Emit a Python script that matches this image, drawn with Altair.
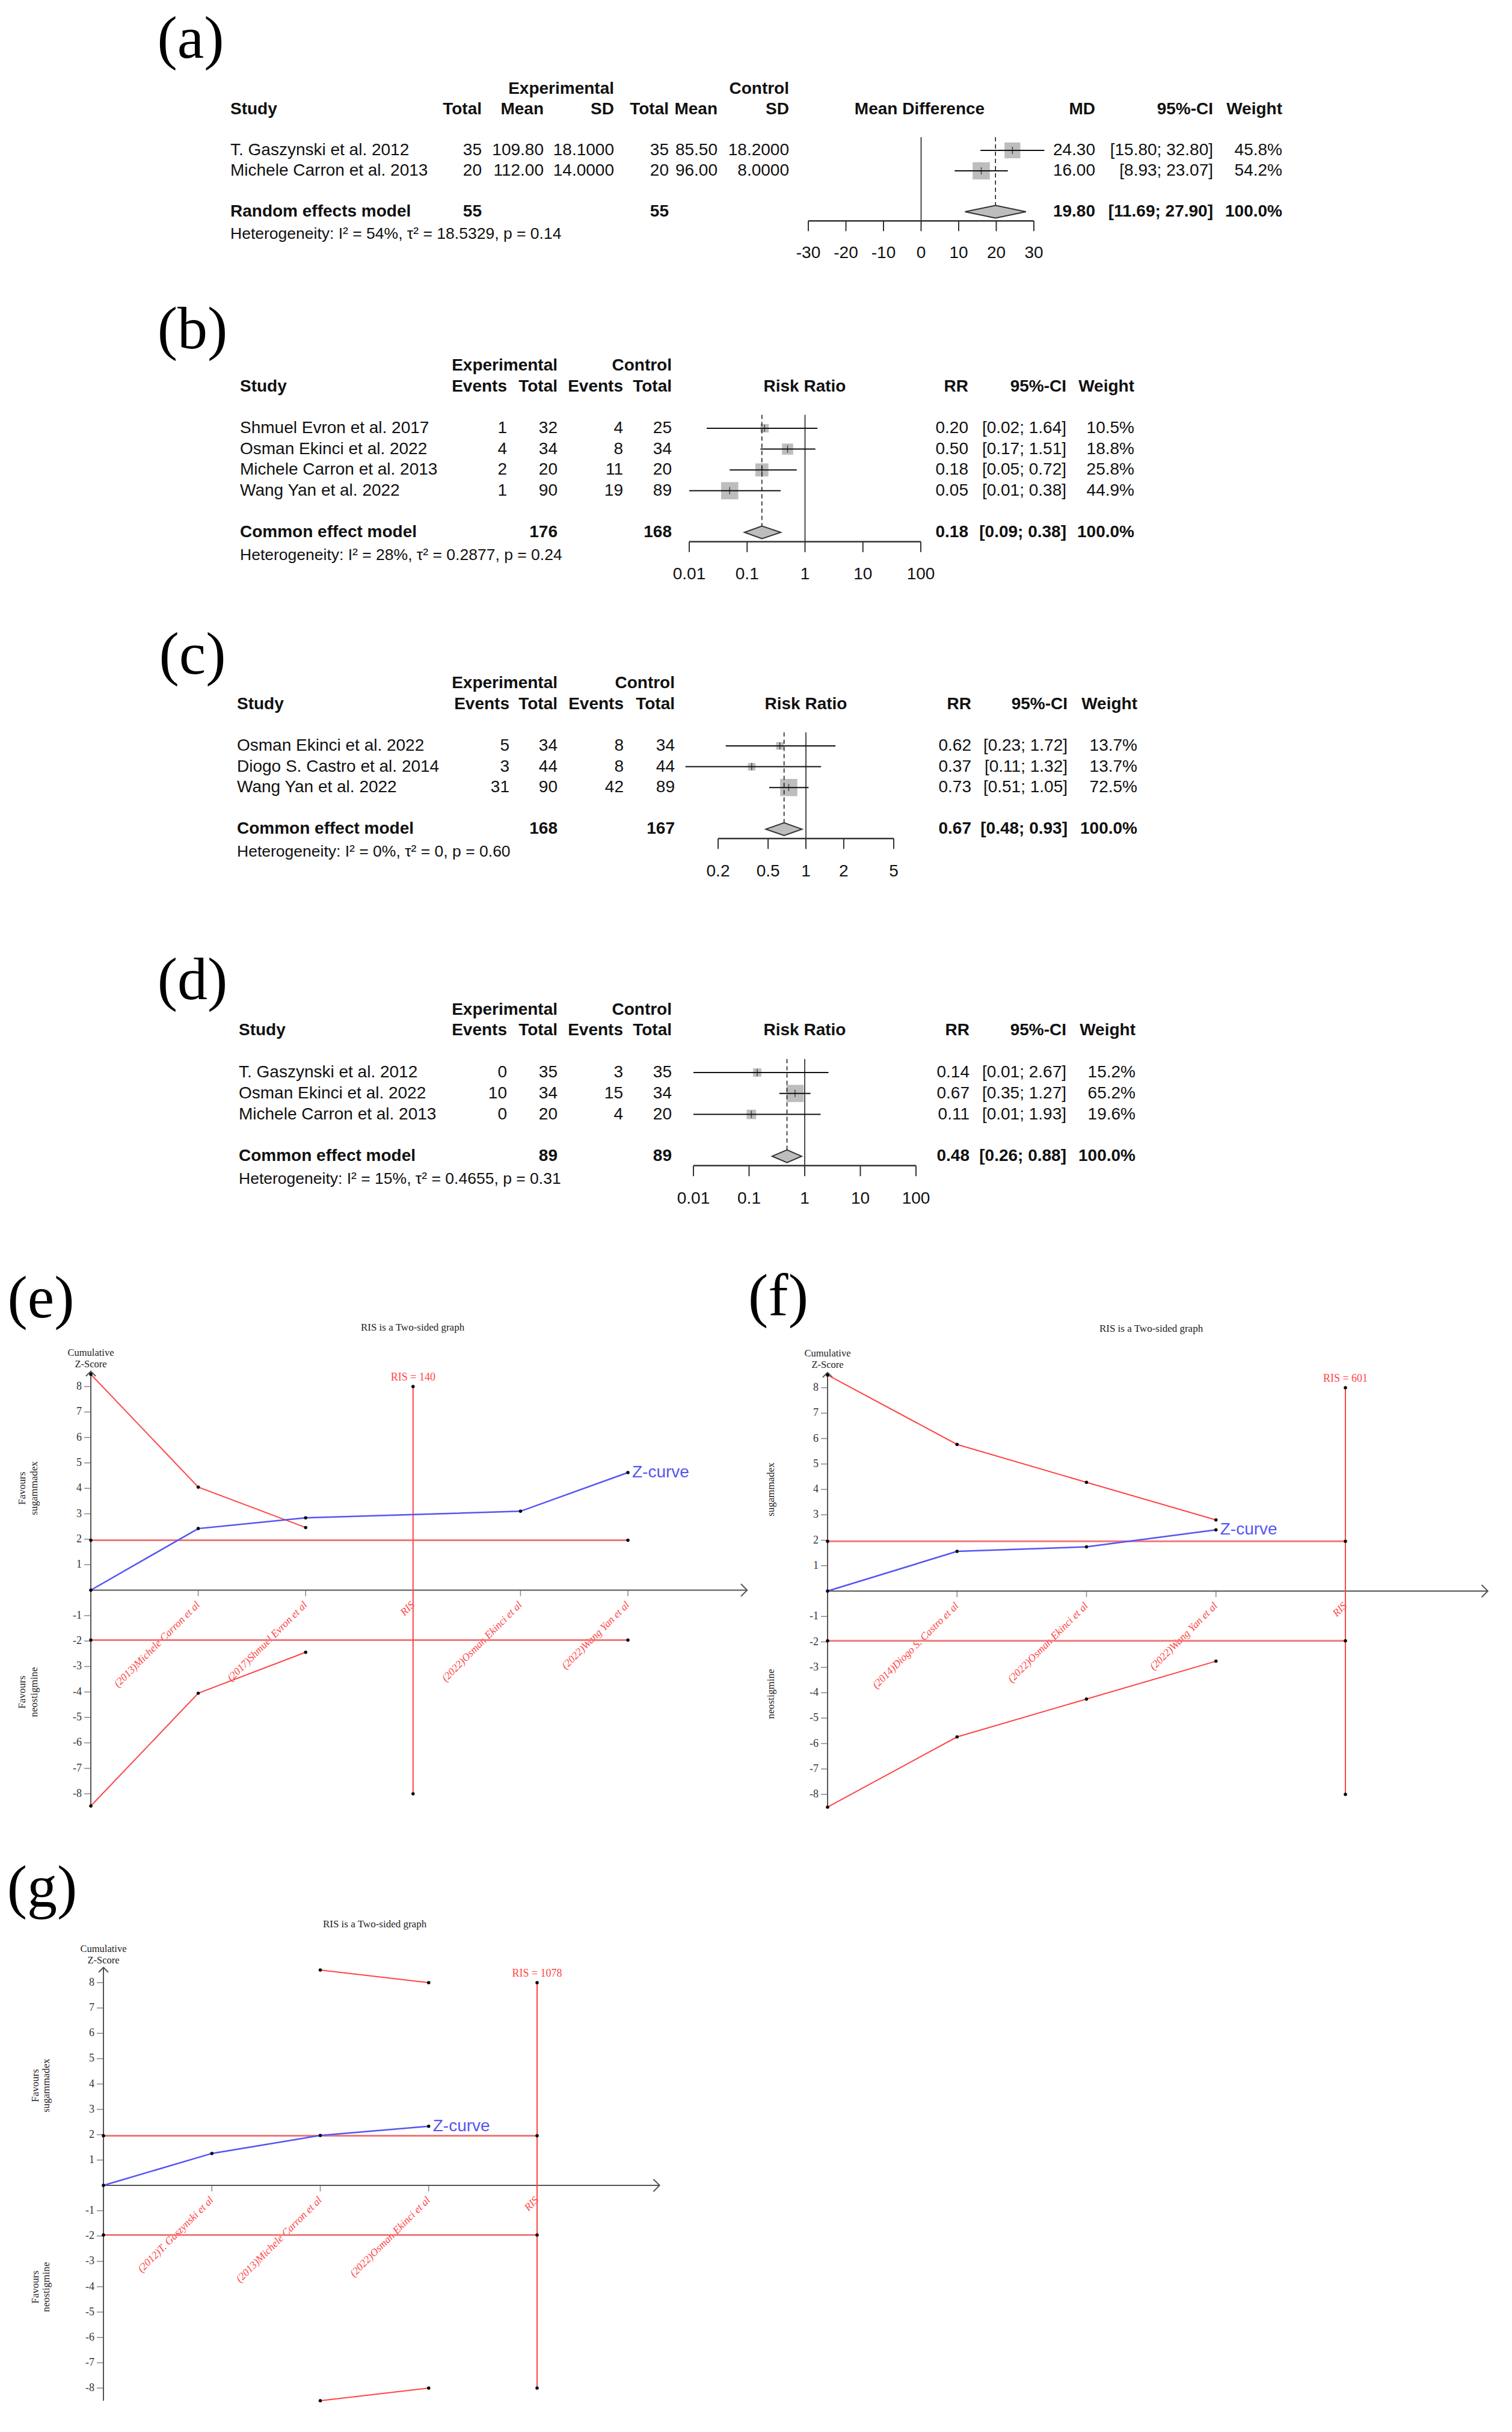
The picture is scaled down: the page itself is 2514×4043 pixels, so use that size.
import altair as alt
import pandas as pd

# ---------------------------------------------------------------- page / style
M = 8
FW, FH = 2514, 4043
W, H = FW - 2 * M, FH - 2 * M
SANS = "Liberation Sans, Arial, Helvetica, sans-serif"
SERIF = "Liberation Serif, Times New Roman, serif"
INK = "#111111"
RED = "#FF4545"
RED_SOFT = "#F07878"
BLUE = "#5555F5"
AXIS = "#555555"
SQUARE = "#BDBDBD"
LABEL_SIZE = 100

# ---------------------------------------------------------------- data (a)
a_study = ["T. Gaszynski et al. 2012", "Michele Carron et al. 2013"]
a_e_total = [35, 20]
a_e_mean = ["109.80", "112.00"]
a_e_sd = ["18.1000", "14.0000"]
a_c_total = [35, 20]
a_c_mean = ["85.50", "96.00"]
a_c_sd = ["18.2000", "8.0000"]
a_est = [24.30, 16.00]
a_lo = [15.80, 8.93]
a_hi = [32.80, 23.07]
a_w = [45.8, 54.2]
a_pooled = [19.80, 11.69, 27.90]
a_n = [55, 55]
a_het = ["54%", "18.5329", "0.14"]
a_ticks = [-30, -20, -10, 0, 10, 20, 30]

# ---------------------------------------------------------------- data (b)
b_study = ["Shmuel Evron et al.  2017", "Osman Ekinci et al. 2022",
           "Michele Carron et al.  2013", "Wang Yan et al. 2022"]
b_e_ev = [1, 4, 2, 1]
b_e_tot = [32, 34, 20, 90]
b_c_ev = [4, 8, 11, 19]
b_c_tot = [25, 34, 20, 89]
b_est = [0.20, 0.50, 0.18, 0.05]
b_lo = [0.02, 0.17, 0.05, 0.01]
b_hi = [1.64, 1.51, 0.72, 0.38]
b_w = [10.5, 18.8, 25.8, 44.9]
b_pooled = [0.18, 0.09, 0.38]
b_n = [176, 168]
b_het = ["28%", "0.2877", "0.24"]
b_ticks = [0.01, 0.1, 1, 10, 100]

# ---------------------------------------------------------------- data (c)
c_study = ["Osman Ekinci et al. 2022", "Diogo S. Castro et al. 2014", "Wang Yan et al. 2022"]
c_e_ev = [5, 3, 31]
c_e_tot = [34, 44, 90]
c_c_ev = [8, 8, 42]
c_c_tot = [34, 44, 89]
c_est = [0.62, 0.37, 0.73]
c_lo = [0.23, 0.11, 0.51]
c_hi = [1.72, 1.32, 1.05]
c_w = [13.7, 13.7, 72.5]
c_pooled = [0.67, 0.48, 0.93]
c_n = [168, 167]
c_het = ["0%", "0", "0.60"]
c_ticks = [0.2, 0.5, 1, 2, 5]

# ---------------------------------------------------------------- data (d)
d_study = ["T. Gaszynski et al.  2012", "Osman Ekinci et al. 2022", "Michele Carron et al.  2013"]
d_e_ev = [0, 10, 0]
d_e_tot = [35, 34, 20]
d_c_ev = [3, 15, 4]
d_c_tot = [35, 34, 20]
d_est = [0.14, 0.67, 0.11]
d_lo = [0.01, 0.35, 0.01]
d_hi = [2.67, 1.27, 1.93]
d_w = [15.2, 65.2, 19.6]
d_pooled = [0.48, 0.26, 0.88]
d_n = [89, 89]
d_het = ["15%", "0.4655", "0.31"]
d_ticks = [0.01, 0.1, 1, 10, 100]

# ---------------------------------------------------------------- data TSA (e)
e_labels = ["(2013)Michele Carron et al", "(2017)Shmuel Evron et al", "RIS",
            "(2022)Osman Ekinci et al", "(2022)Wang Yan et al"]
e_z_idx = [0, 1, 2, 4, 5]
e_z = [0.0, 2.42, 2.84, 3.10, 4.62]
e_up_idx = [0, 1, 2]
e_up = [8.48, 4.05, 2.46]
e_lo_idx = [0, 1, 2]
e_lo = [-8.48, -4.05, -2.44]
e_ris_idx = 3
e_ris = "RIS = 140"

# ---------------------------------------------------------------- data TSA (f)
f_labels = ["(2014)Diogo S. Castro et al", "(2022)Osman Ekinci et al", "(2022)Wang Yan et al", "RIS"]
f_z_idx = [0, 1, 2, 3]
f_z = [0.0, 1.56, 1.74, 2.41]
f_up_idx = [0, 1, 2, 3]
f_up = [8.5, 5.77, 4.28, 2.80]
f_lo_idx = [0, 1, 2, 3]
f_lo = [-8.5, -5.74, -4.25, -2.76]
f_ris_idx = 4
f_ris = "RIS = 601"

# ---------------------------------------------------------------- data TSA (g)
g_labels = ["(2012)T. Gaszynski et al", "(2013)Michele Carron et al", "(2022)Osman Ekinci et al", "RIS"]
g_z_idx = [0, 1, 2, 3]
g_z = [0.0, 1.26, 1.97, 2.33]
g_up_idx = [2, 3]
g_up = [8.5, 8.0]
g_lo_idx = [2, 3]
g_lo = [-8.5, -8.0]
g_ris_idx = 4
g_ris = "RIS = 1078"

# ---------------------------------------------------------------- helpers
PXX = alt.Scale(domain=[0, FW], range=[-M, FW - M], nice=False, zero=False)
PXY = alt.Scale(domain=[0, FH], range=[-M, FH - M], nice=False, zero=False)


def ptext(rows, **mk):
    df = pd.DataFrame(rows, columns=["x", "y", "text"])
    return alt.Chart(df).mark_text(**mk).encode(
        x=alt.X("x:Q", scale=PXX, axis=None),
        y=alt.Y("y:Q", scale=PXY, axis=None),
        text="text:N")


def forest(lay, d):
    out = []
    pitch = lay["pitch"]
    ys = alt.Scale(domain=[0, 10], range=[lay["row0"] - M, lay["row0"] - M + 10 * pitch],
                   nice=False, zero=False)
    kind, dom, rng = lay["scale"]
    xs = alt.Scale(type=kind, domain=dom, range=[rng[0] - M, rng[1] - M], nice=False, zero=False)

    def XD(f):
        return alt.X(f"{f}:Q", scale=xs, axis=None)

    def YR(f):
        return alt.Y(f"{f}:Q", scale=ys, axis=None)

    n = len(d["study"])
    srow, hrow, arow, trow, top = n + 1, n + 2.1, n + 1.45, n + 3.03, -0.65
    dh = 10.5 / pitch

    groups = {("left", "bold"): [], ("right", "bold"): [], ("center", "bold"): [],
              ("left", "normal"): [], ("right", "normal"): []}
    for txt, x in lay["hdr1"]:
        groups[("right", "bold")].append((x, -3, txt))
    groups[("left", "bold")].append((lay["study_x"], -2, "Study"))
    for txt, x in zip(lay["hdr2"], lay["cols"]):
        groups[("right", "bold")].append((x, -2, txt))
    groups[("center", "bold")].append((lay["plot_x"], -2, lay["plot_title"]))
    for txt, x in zip([lay["est_name"], "95%-CI", "Weight"], [lay["est_x"], lay["ci_x"], lay["w_x"]]):
        groups[("right", "bold")].append((x, -2, txt))
    for i in range(n):
        groups[("left", "normal")].append((lay["study_x"], i, d["study"][i]))
        for col, x in zip(d["cols"], lay["cols"]):
            groups[("right", "normal")].append((x, i, str(col[i])))
        groups[("right", "normal")].append((lay["est_x"], i, f"{d['est'][i]:.2f}"))
        groups[("right", "normal")].append((lay["ci_x"], i, f"[{d['lo'][i]:.2f}; {d['hi'][i]:.2f}]"))
        groups[("right", "normal")].append((lay["w_x"], i, f"{d['w'][i]:.1f}%"))
    groups[("left", "bold")].append((lay["study_x"], srow, lay["model"]))
    for v, ci in zip(d["n"], lay["n_cols"]):
        groups[("right", "bold")].append((lay["cols"][ci], srow, str(v)))
    pe, pl, ph = d["pooled"]
    groups[("right", "bold")] += [(lay["est_x"], srow, f"{pe:.2f}"),
                                  (lay["ci_x"], srow, f"[{pl:.2f}; {ph:.2f}]"),
                                  (lay["w_x"], srow, "100.0%")]

    for (al, wt), items in groups.items():
        if not items:
            continue
        df = pd.DataFrame(items, columns=["x", "row", "text"])
        out.append(alt.Chart(df).mark_text(align=al, baseline="middle", font=SANS, fontSize=28,
                                           fontWeight=wt, color=INK).encode(
            x=alt.X("x:Q", scale=PXX, axis=None), y=YR("row"), text="text:N"))

    i2, t2, p = d["het"]
    het = pd.DataFrame({"x": [lay["study_x"]], "row": [hrow],
                        "text": [f"Heterogeneity: I² = {i2}, τ² = {t2}, p = {p}"]})
    out.append(alt.Chart(het).mark_text(align="left", baseline="middle", font=SANS, fontSize=26.5,
                                        color=INK).encode(
        x=alt.X("x:Q", scale=PXX, axis=None), y=YR("row"), text="text:N"))

    st = pd.DataFrame({"est": d["est"], "lo": d["lo"], "hi": d["hi"], "w": d["w"], "row": list(range(n))})
    out.append(alt.Chart(st).mark_square(color=SQUARE, opacity=1).encode(
        x=XD("est"), y=YR("row"),
        size=alt.Size("w:Q", scale=alt.Scale(domain=[0, max(d["w"])], range=[0, 820], nice=False),
                      legend=None)))
    out.append(alt.Chart(st).mark_rule(color=INK, strokeWidth=2).encode(
        x=XD("lo"), x2="hi:Q", y=YR("row")))
    out.append(alt.Chart(st).mark_tick(orient="vertical", size=12, thickness=1.5, color=INK).encode(
        x=XD("est"), y=YR("row")))

    ref = pd.DataFrame({"x": [lay["null"]], "y": [top], "y2": [arow]})
    out.append(alt.Chart(ref).mark_rule(color=INK, strokeWidth=1.5).encode(
        x=XD("x"), y=YR("y"), y2="y2:Q"))
    dl = pd.DataFrame({"x": [pe], "y": [top], "y2": [srow - dh]})
    out.append(alt.Chart(dl).mark_rule(color=INK, strokeWidth=1.5, strokeDash=[7, 5]).encode(
        x=XD("x"), y=YR("y"), y2="y2:Q"))
    dm = pd.DataFrame({"x": [pl, pe, ph], "y": [srow, srow - dh, srow], "y2": [srow, srow + dh, srow]})
    out.append(alt.Chart(dm).mark_area(orient="vertical", fill=SQUARE, stroke="#333333",
                                       strokeWidth=2, opacity=1).encode(
        x=XD("x"), y=YR("y"), y2="y2:Q"))

    tk = d["ticks"]
    ax = pd.DataFrame({"x": [tk[0]], "x2": [tk[-1]], "y": [arow]})
    out.append(alt.Chart(ax).mark_rule(color="#333333", strokeWidth=2.5).encode(
        x=XD("x"), x2="x2:Q", y=YR("y")))
    tdf = pd.DataFrame({"t": tk, "y": [arow] * len(tk), "y2": [arow + 0.5] * len(tk),
                        "ly": [trow] * len(tk), "lab": [f"{t:g}" for t in tk]})
    out.append(alt.Chart(tdf).mark_rule(color="#333333", strokeWidth=2).encode(
        x=XD("t"), y=YR("y"), y2="y2:Q"))
    out.append(alt.Chart(tdf).mark_text(align="center", baseline="middle", font=SANS, fontSize=28,
                                        color=INK).encode(x=XD("t"), y=YR("ly"), text="lab:N"))

    out.append(ptext([(lay["label_xy"][0], lay["label_xy"][1], lay["label"])], font=SERIF,
                     fontSize=LABEL_SIZE, align="center", baseline="middle", color="black"))
    return out


def tsa(lay, d):
    out = []
    nx = lay["nx"]
    xs = alt.Scale(domain=[0, nx], range=[lay["x0"] - M, lay["x1"] - M], nice=False, zero=False)
    ys = alt.Scale(domain=[-8, 8], range=[lay["ym8"] - M, lay["y8"] - M], nice=False, zero=False)

    def X(f):
        return alt.X(f"{f}:Q", scale=xs, axis=None)

    def Y(f):
        return alt.Y(f"{f}:Q", scale=ys, axis=None)

    ae = lay["arrow_end"]
    out.append(alt.Chart(pd.DataFrame({"x": [0], "x2": [ae], "y": [0]})).mark_rule(
        color=AXIS, strokeWidth=2).encode(x=X("x"), x2="x2:Q", y=Y("y")))
    out.append(alt.Chart(pd.DataFrame({"x": [0], "y": [-8.5], "y2": [8.6]})).mark_rule(
        color=AXIS, strokeWidth=2).encode(x=X("x"), y=Y("y"), y2="y2:Q"))
    out.append(alt.Chart(pd.DataFrame({"x": [ae], "y": [0]})).mark_point(
        shape="M-1,-1L0,0L-1,1", filled=False, size=420, color=AXIS, strokeWidth=2, opacity=1).encode(
        x=X("x"), y=Y("y")))
    out.append(alt.Chart(pd.DataFrame({"x": [0], "y": [8.6]})).mark_point(
        shape="M-1,1L0,0L1,1", filled=False, size=260, color=AXIS, strokeWidth=2, opacity=1).encode(
        x=X("x"), y=Y("y")))

    yt = [t for t in range(-8, 9) if t != 0]
    ytdf = pd.DataFrame({"x": [0] * len(yt), "y": yt, "lab": [str(t) for t in yt]})
    out.append(alt.Chart(ytdf).mark_tick(orient="horizontal", size=11, thickness=1.5, color=AXIS,
                                         xOffset=-5.5).encode(x=X("x"), y=Y("y")))
    out.append(alt.Chart(ytdf).mark_text(align="right", baseline="middle", dx=-15, font=SERIF,
                                         fontSize=18, color="#333333").encode(
        x=X("x"), y=Y("y"), text="lab:N"))

    xt = list(range(1, nx + 1))
    xtdf = pd.DataFrame({"x": xt, "y": [0] * nx, "lab": d["labels"]})
    out.append(alt.Chart(xtdf).mark_tick(orient="vertical", size=10, thickness=1.5, color=AXIS,
                                         yOffset=5).encode(x=X("x"), y=Y("y")))
    out.append(alt.Chart(xtdf).mark_text(align="right", baseline="middle", angle=315, yOffset=22,
                                         font=SERIF, fontStyle="italic", fontSize=17.5,
                                         color=RED).encode(x=X("x"), y=Y("y"), text="lab:N"))

    thr = pd.DataFrame({"x": [0, 0], "x2": [nx, nx], "y": [1.96, -1.96]})
    out.append(alt.Chart(thr).mark_rule(color=RED_SOFT, strokeWidth=3).encode(
        x=X("x"), x2="x2:Q", y=Y("y")))
    ri = d["ris_idx"]
    out.append(alt.Chart(pd.DataFrame({"x": [ri], "y": [-8], "y2": [8]})).mark_rule(
        color=RED, strokeWidth=2).encode(x=X("x"), y=Y("y"), y2="y2:Q"))
    bd = pd.DataFrame({"x": d["up_idx"] + d["lo_idx"], "y": d["up"] + d["lo"],
                       "side": ["u"] * len(d["up"]) + ["l"] * len(d["lo"])})
    out.append(alt.Chart(bd).mark_line(color=RED, strokeWidth=2).encode(
        x=X("x"), y=Y("y"), detail="side:N"))
    zc = pd.DataFrame({"x": d["z_idx"], "y": d["z"]})
    out.append(alt.Chart(zc).mark_line(color=BLUE, strokeWidth=2.5).encode(x=X("x"), y=Y("y")))

    dots = pd.concat([
        zc, bd[["x", "y"]],
        pd.DataFrame({"x": [0, nx, 0, nx, ri, ri], "y": [1.96, 1.96, -1.96, -1.96, 8, -8]})
    ], ignore_index=True)
    out.append(alt.Chart(dots).mark_circle(color="black", size=30, opacity=1).encode(
        x=X("x"), y=Y("y")))

    zl = pd.DataFrame({"x": [d["z_idx"][-1]], "y": [d["z"][-1]], "lab": ["Z-curve"]})
    out.append(alt.Chart(zl).mark_text(align="left", baseline="middle", dx=7, font=SANS, fontSize=28,
                                       color=BLUE).encode(x=X("x"), y=Y("y"), text="lab:N"))
    rl = pd.DataFrame({"x": [ri], "y": [8], "lab": [d["ris"]]})
    out.append(alt.Chart(rl).mark_text(align="center", baseline="middle", dy=-15, font=SERIF,
                                       fontSize=18, color=RED).encode(x=X("x"), y=Y("y"), text="lab:N"))

    out.append(ptext([(lay["title_xy"][0], lay["title_xy"][1], "RIS is a Two-sided graph")],
                     font=SERIF, fontSize=17, align="center", baseline="middle", color="#222222"))
    cx, cy = lay["cum_xy"]
    out.append(ptext([(cx, cy, "Cumulative"), (cx, cy + 19, "Z-Score")],
                     font=SERIF, fontSize=16.5, align="center", baseline="middle", color="#222222"))
    out.append(ptext(lay["side"], font=SERIF, fontSize=17, align="center", baseline="middle",
                     angle=270, color="#222222"))
    out.append(ptext([(lay["label_xy"][0], lay["label_xy"][1], lay["label"])], font=SERIF,
                     fontSize=LABEL_SIZE, align="center", baseline="middle", color="black"))
    return out


# ---------------------------------------------------------------- layouts (positions in image px)
A_LAY = dict(label="(a)", label_xy=(317, 66), row0=250, pitch=34, study_x=383,
             cols=[801, 904, 1021, 1112, 1193, 1312],
             hdr1=[("Experimental", 1021), ("Control", 1312)],
             hdr2=["Total", "Mean", "SD", "Total", "Mean", "SD"],
             plot_x=1529, plot_title="Mean Difference", est_name="MD",
             est_x=1821, ci_x=2017, w_x=2132, scale=("linear", [-30, 30], [1344, 1719]),
             null=0, model="Random effects model", n_cols=[0, 3])
B_LAY = dict(label="(b)", label_xy=(320, 549), row0=712, pitch=34.6, study_x=399,
             cols=[843, 927, 1036, 1117],
             hdr1=[("Experimental", 927), ("Control", 1117)],
             hdr2=["Events", "Total", "Events", "Total"],
             plot_x=1338, plot_title="Risk Ratio", est_name="RR",
             est_x=1610, ci_x=1773, w_x=1886, scale=("log", [0.01, 100], [1146, 1531]),
             null=1, model="Common effect model", n_cols=[1, 3])
C_LAY = dict(label="(c)", label_xy=(320, 1090), row0=1240, pitch=34.6, study_x=394,
             cols=[847, 927, 1037, 1122],
             hdr1=[("Experimental", 927), ("Control", 1122)],
             hdr2=["Events", "Total", "Events", "Total"],
             plot_x=1340, plot_title="Risk Ratio", est_name="RR",
             est_x=1615, ci_x=1775, w_x=1891, scale=("log", [0.2, 5], [1194, 1486]),
             null=1, model="Common effect model", n_cols=[1, 3])
D_LAY = dict(label="(d)", label_xy=(320, 1631), row0=1783, pitch=34.8, study_x=397,
             cols=[843, 927, 1036, 1117],
             hdr1=[("Experimental", 927), ("Control", 1117)],
             hdr2=["Events", "Total", "Events", "Total"],
             plot_x=1338, plot_title="Risk Ratio", est_name="RR",
             est_x=1612, ci_x=1773, w_x=1888, scale=("log", [0.01, 100], [1153, 1523]),
             null=1, model="Common effect model", n_cols=[1, 3])

E_LAY = dict(label="(e)", label_xy=(68, 2160), x0=151, x1=1044, nx=5, y8=2305, ym8=2982,
             arrow_end=6.11, title_xy=(686, 2207), cum_xy=(151, 2249),
             side=[(37, 2474, "Favours"), (57, 2474, "sugammadex"),
                   (37, 2813, "Favours"), (57, 2813, "neostigmine")])
F_LAY = dict(label="(f)", label_xy=(1294, 2157), x0=1376, x1=2237, nx=4, y8=2307, ym8=2983,
             arrow_end=5.1, title_xy=(1914, 2209), cum_xy=(1376, 2250),
             side=[(1282, 2476, "sugammadex"), (1282, 2816, "neostigmine")])
G_LAY = dict(label="(g)", label_xy=(70, 3140), x0=172, x1=893, nx=4, y8=3296, ym8=3970,
             arrow_end=5.13, title_xy=(623, 3199), cum_xy=(172, 3240),
             side=[(59, 3467, "Favours"), (77, 3467, "sugammadex"),
                   (59, 3802, "Favours"), (77, 3802, "neostigmine")])

# ---------------------------------------------------------------- build
layers = []
layers += forest(A_LAY, dict(study=a_study, cols=[a_e_total, a_e_mean, a_e_sd, a_c_total, a_c_mean, a_c_sd],
                             est=a_est, lo=a_lo, hi=a_hi, w=a_w, pooled=a_pooled, n=a_n,
                             het=a_het, ticks=a_ticks))
layers += forest(B_LAY, dict(study=b_study, cols=[b_e_ev, b_e_tot, b_c_ev, b_c_tot],
                             est=b_est, lo=b_lo, hi=b_hi, w=b_w, pooled=b_pooled, n=b_n,
                             het=b_het, ticks=b_ticks))
layers += forest(C_LAY, dict(study=c_study, cols=[c_e_ev, c_e_tot, c_c_ev, c_c_tot],
                             est=c_est, lo=c_lo, hi=c_hi, w=c_w, pooled=c_pooled, n=c_n,
                             het=c_het, ticks=c_ticks))
layers += forest(D_LAY, dict(study=d_study, cols=[d_e_ev, d_e_tot, d_c_ev, d_c_tot],
                             est=d_est, lo=d_lo, hi=d_hi, w=d_w, pooled=d_pooled, n=d_n,
                             het=d_het, ticks=d_ticks))
layers += tsa(E_LAY, dict(labels=e_labels, z_idx=e_z_idx, z=e_z, up_idx=e_up_idx, up=e_up,
                          lo_idx=e_lo_idx, lo=e_lo, ris_idx=e_ris_idx, ris=e_ris))
layers += tsa(F_LAY, dict(labels=f_labels, z_idx=f_z_idx, z=f_z, up_idx=f_up_idx, up=f_up,
                          lo_idx=f_lo_idx, lo=f_lo, ris_idx=f_ris_idx, ris=f_ris))
layers += tsa(G_LAY, dict(labels=g_labels, z_idx=g_z_idx, z=g_z, up_idx=g_up_idx, up=g_up,
                          lo_idx=g_lo_idx, lo=g_lo, ris_idx=g_ris_idx, ris=g_ris))

chart = alt.layer(*layers).resolve_scale(
    x="independent", y="independent", size="independent"
).properties(
    width=W, height=H, padding=0, background="white",
    autosize=alt.AutoSizeParams(type="none"),
).configure_view(stroke=None)

chart.save("out.html", embed_options={"renderer": "svg", "actions": False})
